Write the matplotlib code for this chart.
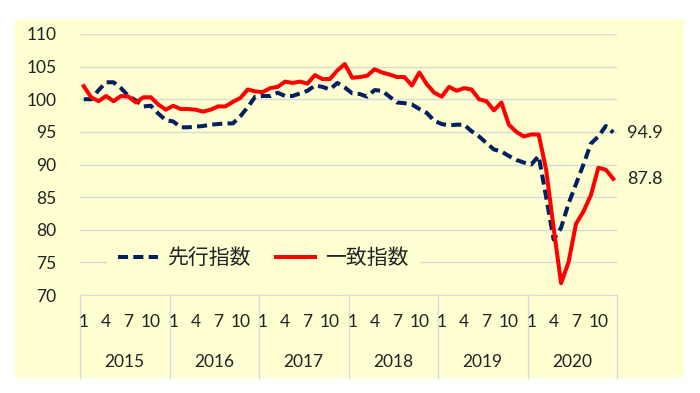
import numpy as np
import matplotlib.pyplot as plt
import matplotlib.transforms as mtransforms
from matplotlib.patches import Rectangle

# monthly values, Jan 2015 .. Dec 2020
years = [2015, 2016, 2017, 2018, 2019, 2020]
month_ticks = [1, 4, 7, 10]

leading = [100.0, 100.0, 101.4, 102.6, 102.6, 101.7, 100.5, 99.8, 98.9, 99.0, 97.8, 96.8,
           96.6, 95.7, 95.7, 95.8, 95.9, 96.1, 96.2, 96.3, 96.3, 97.4, 98.8, 100.4,
           100.5, 100.5, 101.0, 100.5, 100.5, 100.9, 101.3, 102.1, 101.9, 101.5, 102.5, 101.8,
           100.9, 100.8, 100.4, 101.4, 101.3, 100.4, 99.5, 99.4, 99.2, 98.5, 97.9, 96.7,
           96.2, 96.0, 96.1, 96.1, 95.1, 94.3, 93.3, 92.3, 92.0, 91.3, 90.7, 90.3,
           90.0, 91.3, 85.0, 78.5, 80.3, 84.0, 87.0, 90.0, 93.2, 94.3, 95.9, 94.9]

coincident = [102.0, 100.3, 99.7, 100.5, 99.7, 100.5, 100.4, 99.5, 100.3, 100.3, 99.2, 98.4,
              99.0, 98.5, 98.5, 98.4, 98.1, 98.4, 98.9, 98.9, 99.6, 100.2, 101.5, 101.2,
              101.1, 101.7, 101.9, 102.7, 102.5, 102.7, 102.4, 103.7, 103.1, 103.1, 104.4, 105.4,
              103.3, 103.4, 103.6, 104.6, 104.1, 103.8, 103.4, 103.4, 102.1, 104.1, 102.3, 101.0,
              100.4, 101.9, 101.3, 101.7, 101.5, 100.0, 99.7, 98.3, 99.5, 96.1, 95.0, 94.3,
              94.6, 94.6, 89.2, 80.3, 71.8, 75.0, 80.9, 82.8, 85.3, 89.5, 89.2, 87.8]

num_font = 'Lato'
jp_font = ['Noto Sans CJK JP', 'DejaVu Sans']
bg = '#FFFFD1'
grid_c = '#D9D9D9'
txt_c = '#222222'

fig = plt.figure(figsize=(7, 3.93), dpi=100)
# yellow panel behind the chart
panel = Rectangle((15/700, 1-378/393), 669/700, 359/393,
                  transform=fig.transFigure, facecolor=bg, edgecolor='none')
panel.set_zorder(-10)
fig.add_artist(panel)

ax = fig.add_axes([80/700, 1-295/393, 537/700, 261/393])
ax.set_facecolor('none')
ax.set_zorder(1)

x = np.arange(len(leading))
ax.plot(x, leading, color='#002060', lw=2.9, dashes=(2.5, 1.3), label='先行指数')
ax.plot(x, coincident, color='#FF0000', lw=2.9, label='一致指数')

ax.set_xlim(-0.5, len(leading) - 0.5)
ax.set_ylim(70, 110)
ax.set_yticks(range(70, 111, 5))
ax.yaxis.grid(True, color=grid_c, lw=1)
ax.set_axisbelow(True)
for s in ['top', 'right', 'left']:
    ax.spines[s].set_visible(False)
ax.spines['bottom'].set_color(grid_c)
ax.set_xticks([])
ax.tick_params(axis='y', length=0, pad=17, labelsize=12.5)
for lab in ax.get_yticklabels():
    lab.set_fontfamily(num_font)
    lab.set_color(txt_c)

# month / year category labels under the axis
trans = mtransforms.blended_transform_factory(ax.transData, ax.transAxes)
for k, yr in enumerate(years):
    for m in month_ticks:
        ax.text(12*k + m - 1, -0.103, str(m), transform=trans, ha='center', va='center',
                fontsize=12.5, family=num_font, color=txt_c)
    ax.text(12*k + 5.5, -0.257, str(yr), transform=trans, ha='center', va='center',
            fontsize=12.5, family=num_font, color=txt_c)
for k in range(len(years) + 1):
    ax.plot([12*k - 0.5, 12*k - 0.5], [0, -0.318], transform=trans, color=grid_c,
            lw=1, clip_on=False)

# end value labels
for series in [leading, coincident]:
    ax.annotate(f'{series[-1]:.1f}', (x[-1], series[-1]), xytext=(10, 0),
                textcoords='offset points', va='center', ha='left',
                fontsize=13, family=num_font, color=txt_c, annotation_clip=False)

leg = ax.legend(loc='center left', bbox_to_anchor=(0.05, 0.142), ncol=2,
                frameon=True, fancybox=False, facecolor=bg, edgecolor='none',
                framealpha=1, prop={'family': jp_font, 'size': 15},
                handlelength=1.9, handletextpad=0.45, columnspacing=1.2,
                borderpad=0.55, borderaxespad=0)
for t in leg.get_texts():
    t.set_color(txt_c)

fig.savefig('out.png', dpi=100)
